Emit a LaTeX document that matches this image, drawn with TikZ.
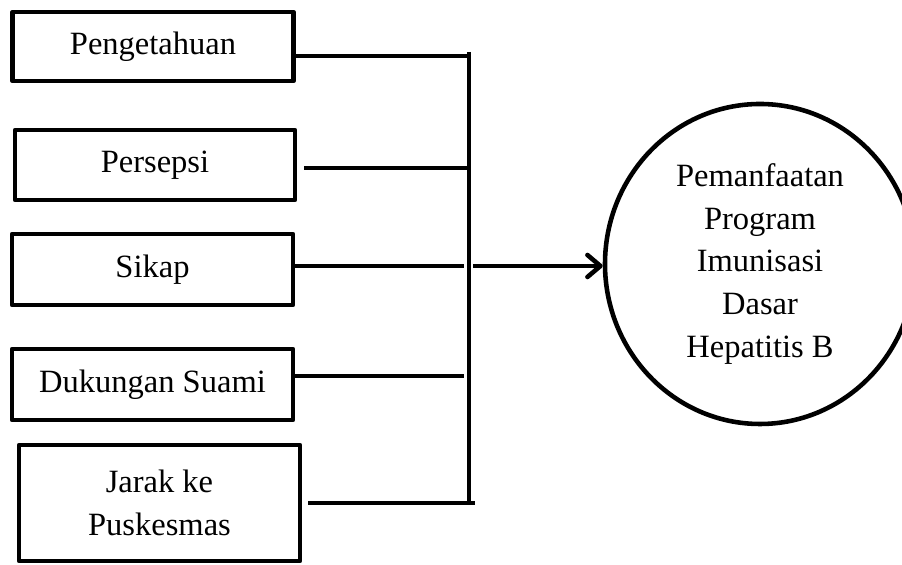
\documentclass[tikz,border=0pt]{standalone}
\usepackage{fontspec}
\setmainfont{Liberation Serif}
\usepackage{tikz}
\usetikzlibrary{positioning}
\usetikzlibrary{shapes.geometric}
\usetikzlibrary{arrows.meta}
\pgfdeclarelayer{nodelayer}
\pgfdeclarelayer{edgelayer}
\pgfsetlayers{nodelayer,edgelayer,main}
\tikzset{
    none/.style = {inner sep=0pt},
    kotak/.style = {draw, line width=2.6pt, line join=round, minimum width=5.62cm, minimum height=1.42cm, align=center, font=\fontsize{18.5}{24.4}\selectfont},
    bulat/.style = {draw, ellipse, line width=2.6pt, inner sep=0pt, minimum width=6.2cm, minimum height=6.4cm, align=center, font=\fontsize{18.5}{24.4}\selectfont},
    garis/.style = {line width=2.6pt}
}

\begin{document}
\begin{tikzpicture}
    \useasboundingbox (0, 0) rectangle (18.04, 11.3);
    \begin{pgfonlayer}{nodelayer}
        \node [style=kotak, minimum height=1.38cm] (0) at (3.06, 10.37) {Pengetahuan};
        \node [style=kotak, minimum width=5.6cm, minimum height=1.4cm] (1) at (3.1, 8) {Persepsi};
        \node [style=kotak] (2) at (3.05, 5.91) {Sikap};
        \node [style=kotak] (3) at (3.05, 3.61) {Dukungan Suami};
        \node [style=kotak, minimum height=2.32cm] (4) at (3.19, 1.24) {Jarak ke\\Puskesmas};
        \node [style=bulat] (5) at (15.2, 6.02) {Pemanfaatan\\Program\\Imunisasi\\Dasar\\Hepatitis B};
        \node [style=none] (6) at (9.38, 10.26) {};
        \node [style=none] (7) at (9.38, 1.24) {};
        \node [style=none] (8) at (9.38, 10.18) {};
        \node [style=none] (9) at (9.38, 7.94) {};
        \node [style=none] (10) at (9.28, 5.98) {};
        \node [style=none] (11) at (9.28, 3.78) {};
        \node [style=none] (12) at (9.5, 1.24) {};
        \node [style=none] (13) at (9.46, 5.98) {};
    \end{pgfonlayer}
    \begin{pgfonlayer}{edgelayer}
        % bar
        \draw [style=garis] (6.center) to (7.center);
        \draw [style=garis] (0.east |- 8) to (8.center);
        \draw [style=garis] ([xshift=0.14cm]1.east |- 9) to (9.center);
        \draw [style=garis] (2.east |- 10) to (10.center);
        \draw [style=garis] (3.east |- 11) to (11.center);
        \draw [style=garis] ([xshift=0.12cm]4.east |- 12) to (12.center);
        % arrow to the circle
        \draw [style=garis, -{Straight Barb[length=0.26cm, width=0.44cm, line join=round, line cap=round]}] (13.center) to (5.west |- 13);
    \end{pgfonlayer}
\end{tikzpicture}
\end{document}
